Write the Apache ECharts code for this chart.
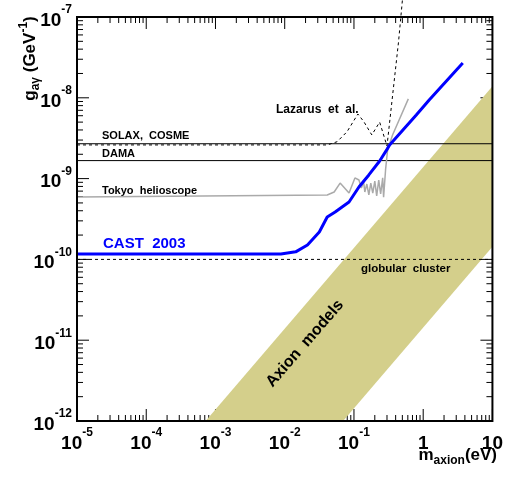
<!DOCTYPE html>
<html>
<head>
<meta charset="utf-8">
<script src="https://cdn.jsdelivr.net/npm/echarts@6/dist/echarts.min.js"></script>
<style>html,body{margin:0;padding:0;background:#fff}#c{width:506px;height:477px}</style>
</head>
<body>
<div id="c"></div>
<script>
// ---- axis ranges and tick labels ----
const xRange = [1e-5, 10];
const yRange = [1e-12, 1e-7];
const xTickBase = ['10', '10', '10', '10', '10', '1', '10'];
const xTickExp  = ['-5', '-4', '-3', '-2', '-1', '', ''];
const yTickBase = ['10', '10', '10', '10', '10', '10'];
const yTickExp  = ['-12', '-11', '-10', '-9', '-8', '-7'];

// ---- CAST 2003 limit ----
const castMass = [1e-5, 8.8e-3, 0.0144, 0.0213, 0.0316, 0.0411, 0.0535, 0.0849, 0.118, 0.164, 0.235, 0.30, 0.327, 0.794, 1.22, 3.73];
const castG    = [1.17e-10, 1.17e-10, 1.24e-10, 1.51e-10, 2.18e-10, 3.35e-10, 3.86e-10, 5.13e-10, 7.87e-10, 1.11e-9, 1.65e-9, 2.3e-9, 2.61e-9, 6.13e-9, 9.4e-9, 2.7e-8];

// ---- Tokyo helioscope ----
const tokyoMass = [1e-5, 0.0411, 0.0518, 0.0631, 0.0849, 0.1033, 0.118, 0.128, 0.138, 0.1436, 0.1535, 0.164, 0.175, 0.187, 0.2, 0.213, 0.228, 0.243, 0.26, 0.268, 0.286, 0.306, 0.361, 0.61];
const tokyoG    = [5.9e-10, 6.27e-10, 6.82e-10, 8.8e-10, 6.63e-10, 1.02e-9, 9.6e-10, 7.65e-10, 9.08e-10, 6.82e-10, 8.57e-10, 6.27e-10, 8.8e-10, 6.63e-10, 9.3e-10, 6.1e-10, 9.6e-10, 6.45e-10, 1.02e-9, 5.9e-10, 1.28e-9, 2.26e-9, 3.47e-9, 9.7e-9];

// ---- Lazarus et al. ----
const lazMass = [1e-5, 0.0411, 0.0571, 0.0794, 0.114, 0.139, 0.181, 0.235, 0.30, 0.44, 0.501];
const lazG    = [2.61e-9, 2.61e-9, 2.86e-9, 3.8e-9, 6.3e-9, 5.06e-9, 3.47e-9, 5.0e-9, 2.53e-9, 4.9e-8, 1.62e-7];

// ---- horizontal limits ----
const solaxG = 2.7e-9;
const damaG = 1.67e-9;
const globularG = 1e-10;

// ---- Axion models band (corners) ----
const bandMass = [7.2e-4, 0.0697, 10, 10];
const bandG    = [1e-12, 1e-12, 1.43e-10, 1.39e-8];

const FONT = 'Liberation Sans';
const chart = echarts.init(document.getElementById('c'), null, {renderer: 'canvas'});

function zip(a, b) { return a.map((v, i) => [v, b[i]]); }
function expOf(v) { return Math.round(Math.log10(v)); }

const richTick = {
  b: {fontFamily: FONT, fontWeight: 'bold', fontSize: 19, lineHeight: 26, color: '#000', verticalAlign: 'bottom'},
  s: {fontFamily: FONT, fontWeight: 'bold', fontSize: 12, lineHeight: 12, color: '#000', verticalAlign: 'top'}
};
function tickFmt(base, exp, lo) {
  return function (v) {
    const i = expOf(v) - expOf(lo);
    if (i < 0 || i >= base.length) return '';
    return '{b|' + base[i] + '}' + (exp[i] ? '{s|' + exp[i] + '}' : '');
  };
}

function renderTicks(params, api) {
  if (params.dataIndex !== 0) return null;
  const children = [];
  const pb = api.coord([xRange[0], yRange[0]]);
  const pt = api.coord([xRange[1], yRange[1]]);
  const xL = pb[0], yB = pb[1], xR = pt[0], yT = pt[1];
  const ln = (x1, y1, x2, y2) => ({type: 'line', shape: {x1, y1, x2, y2}, style: {stroke: '#000', lineWidth: 1}});
  for (let d = expOf(xRange[0]); d <= expOf(xRange[1]); d++) {
    for (let k = 1; k <= 9; k++) {
      const v = k * Math.pow(10, d);
      if (v > xRange[1] * 1.0001) break;
      const px = api.coord([v, yRange[0]])[0];
      const L = k === 1 ? 12 : 6;
      children.push(ln(px, yB, px, yB - L), ln(px, yT, px, yT + L));
    }
  }
  for (let d = expOf(yRange[0]); d <= expOf(yRange[1]); d++) {
    for (let k = 1; k <= 9; k++) {
      const v = k * Math.pow(10, d);
      if (v > yRange[1] * 1.0001) break;
      const py = api.coord([xRange[0], v])[1];
      const L = k === 1 ? 12 : 6;
      children.push(ln(xL, py, xL + L, py), ln(xR, py, xR - L, py));
    }
  }
  return {type: 'group', children};
}
function renderFrame(params, api) {
  if (params.dataIndex !== 0) return null;
  const pb = api.coord([xRange[0], yRange[0]]);
  const pt = api.coord([xRange[1], yRange[1]]);
  return {type: 'rect', shape: {x: pb[0], y: pt[1], width: pt[0] - pb[0], height: pb[1] - pt[1]},
          style: {fill: 'none', stroke: '#000', lineWidth: 2}};
}
function renderBand(params, api) {
  if (params.dataIndex !== 0) return null;
  const pts = bandMass.map((m, i) => api.coord([m, bandG[i]]));
  return {type: 'polygon', shape: {points: pts}, style: {fill: '#d4cf8b', stroke: 'none'}};
}

const lineBase = {type: 'line', symbol: 'none', smooth: false, silent: true, animation: false};

const option = {
  animation: false,
  grid: {left: 77, right: 9, top: 17, bottom: 56, show: false},
  xAxis: {
    type: 'log', logBase: 10, min: xRange[0], max: xRange[1], splitNumber: 6,
    axisLine: {show: false}, axisTick: {show: false}, splitLine: {show: false}, minorTick: {show: false},
    axisLabel: {formatter: tickFmt(xTickBase, xTickExp, xRange[0]), rich: richTick, margin: 6, showMinLabel: true, showMaxLabel: true}
  },
  yAxis: {
    type: 'log', logBase: 10, min: yRange[0], max: yRange[1], splitNumber: 5,
    axisLine: {show: false}, axisTick: {show: false}, splitLine: {show: false}, minorTick: {show: false},
    axisLabel: {formatter: tickFmt(yTickBase, yTickExp, yRange[0]), rich: richTick, margin: 5, showMinLabel: true, showMaxLabel: true}
  },
  series: [
    {type: 'custom', name: 'ticks', renderItem: renderTicks, data: [[1e-3, 1e-10]], z: 1, silent: true},
    {type: 'custom', name: 'band', renderItem: renderBand, data: zip(bandMass, bandG), z: 2, silent: true},
    Object.assign({}, lineBase, {name: 'SOLAX', data: [[xRange[0], solaxG], [xRange[1], solaxG]], lineStyle: {color: '#000', width: 1}, z: 3}),
    Object.assign({}, lineBase, {name: 'DAMA', data: [[xRange[0], damaG], [xRange[1], damaG]], lineStyle: {color: '#000', width: 1}, z: 3}),
    Object.assign({}, lineBase, {name: 'globular', data: [[xRange[0], globularG], [xRange[1], globularG]], lineStyle: {color: '#000', width: 1, type: [3, 3]}, z: 3}),
    Object.assign({}, lineBase, {name: 'Tokyo', data: zip(tokyoMass, tokyoG), lineStyle: {color: '#aaaaaa', width: 1.5}, z: 3}),
    Object.assign({}, lineBase, {name: 'Lazarus', data: zip(lazMass, lazG), lineStyle: {color: '#000', width: 1, type: [3, 3]}, z: 4, clip: false}),
    Object.assign({}, lineBase, {name: 'CAST', data: zip(castMass, castG), lineStyle: {color: '#0000ff', width: 3}, z: 5}),
    {type: 'custom', name: 'frame', renderItem: renderFrame, data: [[1e-3, 1e-10]], z: 10, silent: true}
  ],
  graphic: [
    {type: 'text', z: 20, x: 276, y: 109.5, style: {text: 'Lazarus  et  al.', font: 'bold 12px ' + FONT, fill: '#000', verticalAlign: 'middle'}},
    {type: 'text', z: 20, x: 102, y: 136.2, style: {text: 'SOLAX,  COSME', font: 'bold 11px ' + FONT, fill: '#000', verticalAlign: 'middle'}},
    {type: 'text', z: 20, x: 102, y: 154.2, style: {text: 'DAMA', font: 'bold 11px ' + FONT, fill: '#000', verticalAlign: 'middle'}},
    {type: 'text', z: 20, x: 102, y: 190.5, style: {text: 'Tokyo  helioscope', font: 'bold 11px ' + FONT, fill: '#000', verticalAlign: 'middle'}},
    {type: 'text', z: 20, x: 103, y: 243.7, style: {text: 'CAST  2003', font: 'bold 15px ' + FONT, fill: '#0000ff', verticalAlign: 'middle'}},
    {type: 'text', z: 20, x: 361, y: 268.5, style: {text: 'globular  cluster', font: 'bold 11.5px ' + FONT, fill: '#000', verticalAlign: 'middle'}},
    {type: 'text', z: 20, x: 305, y: 343.5, rotation: 49 * Math.PI / 180,
     style: {text: 'Axion  models', font: 'bold 16px ' + FONT, fill: '#000', align: 'center', verticalAlign: 'middle'}},
    {type: 'text', z: 20, x: 497, y: 467, style: {
      text: '{m|m}{sub|axion}{m|(eV)}', align: 'right', verticalAlign: 'bottom',
      rich: {
        m: {fontFamily: FONT, fontWeight: 'bold', fontSize: 17, lineHeight: 20, verticalAlign: 'top', fill: '#000'},
        sub: {fontFamily: FONT, fontWeight: 'bold', fontSize: 12, lineHeight: 10, verticalAlign: 'bottom', fill: '#000'}
      }}},
    {type: 'text', z: 20, x: 30, y: 58.5, rotation: Math.PI / 2, style: {
      text: '{m|g}{sub|aγ}{m| (GeV}{sup|-1}{m|)}', align: 'center', verticalAlign: 'middle',
      rich: {
        m: {fontFamily: FONT, fontWeight: 'bold', fontSize: 17, lineHeight: 24, verticalAlign: 'middle', fill: '#000'},
        sub: {fontFamily: FONT, fontWeight: 'bold', fontSize: 12, lineHeight: 12, verticalAlign: 'bottom', fill: '#000'},
        sup: {fontFamily: FONT, fontWeight: 'bold', fontSize: 12, lineHeight: 12, verticalAlign: 'top', fill: '#000'}
      }}}
  ]
};
chart.setOption(option);
</script>
</body>
</html>
